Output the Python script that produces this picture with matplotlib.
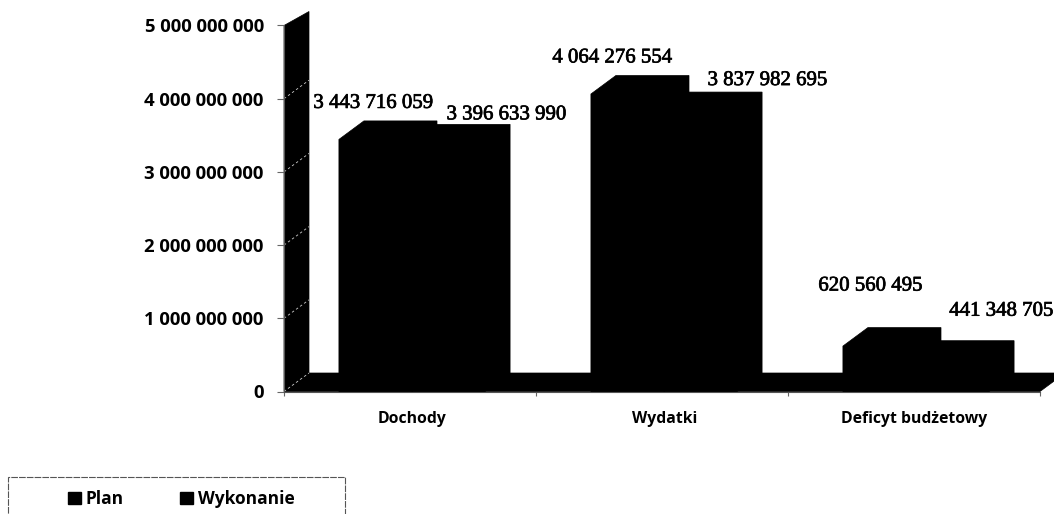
import matplotlib
matplotlib.use('Agg')
import matplotlib.pyplot as plt
import matplotlib.patheffects as pe
from matplotlib.patches import Patch, Polygon, Rectangle

categories = ['Dochody', 'Wydatki', 'Deficyt budżetowy']
plan = [3443716059, 4064276554, 620560495]
wykonanie = [3396633990, 3837982695, 441348705]
y_ticks = [0, 1000000000, 2000000000, 3000000000, 4000000000, 5000000000]
y_tick_labels = ['0', '1 000 000 000', '2 000 000 000', '3 000 000 000', '4 000 000 000', '5 000 000 000']


def fmt(value):
    return f'{value:,}'.replace(',', ' ')


def add_bar(ax, left, width, value):
    # front face, top and side of a 3d bar, all black so they merge
    pts = [(left, 0), (left, value), (left + dx, value + dy),
           (left + width + dx, value + dy), (left + width + dx, dy), (left + width, 0)]
    ax.add_patch(Polygon(pts, closed=True, fc='black', ec='black', lw=0.5, zorder=3, clip_on=False))


W, H = 1054, 514
fig = plt.figure(figsize=(W / 100, H / 100), dpi=100)
ax = fig.add_axes([284 / W, 1 - 391.5 / H, 756 / W, 366 / H])
ax.set_xlim(0, 3)
ax.set_ylim(0, 5000000000)

dx = 25 / 252
dy = 18.5 / 366 * 5000000000
wall_rise = 14 / 366 * 5000000000
bar_w = 0.29
shift = 2 / 252

# back wall and floor
ax.add_patch(Polygon([(0, 0), (0, 5000000000), (dx, 5000000000 + wall_rise), (dx, dy)],
                     closed=True, fc='black', ec='black', lw=0.5, zorder=1, clip_on=False))
ax.add_patch(Polygon([(0, 0), (dx, dy), (3 + dx, dy), (3, 0)],
                     closed=True, fc='black', ec='black', lw=0.5, zorder=1, clip_on=False))

# broken light gridlines on the wall
for t in y_ticks[:-1]:
    ax.plot([0, dx], [t, t + dy], color='#cccccc', lw=0.6, ls=(0, (3, 3)), zorder=2, clip_on=False)

for i in range(3):
    add_bar(ax, i + 0.5 - bar_w + shift, bar_w, plan[i])
    add_bar(ax, i + 0.5 + shift, bar_w, wykonanie[i])

# label offsets in pixels from the front top of the bar
plan_off = [(0, 36), (-13, 36), (-7, 60)]
wyk_off = [(60, 28), (69, 30), (51, 48)]
heavy = [pe.withStroke(linewidth=0.5, foreground='black')]
for i in range(3):
    ax.annotate(fmt(plan[i]), (i + 0.5 - bar_w / 2, plan[i]), xytext=plan_off[i], textcoords='offset pixels',
                ha='center', va='center', family='Liberation Serif', fontsize=15, zorder=5,
                annotation_clip=False, path_effects=heavy)
    ax.annotate(fmt(wykonanie[i]), (i + 0.5 + bar_w / 2, wykonanie[i]), xytext=wyk_off[i],
                textcoords='offset pixels', ha='center', va='center', family='Liberation Serif',
                fontsize=15, zorder=5, annotation_clip=False, path_effects=heavy)

for side in ['top', 'right']:
    ax.spines[side].set_visible(False)
ax.spines['left'].set_color('#555555')
ax.spines['bottom'].set_color('#555555')

ax.set_yticks(y_ticks)
ax.set_yticklabels(y_tick_labels, family='Open Sans', fontweight='bold', fontsize=13.3)
ax.tick_params(axis='y', length=5, color='#666666', pad=9.5)
ax.set_xticks([0, 1, 2, 3])
ax.set_xticklabels([])
ax.tick_params(axis='x', length=3, color='#666666')
ax.set_xticks([0.51, 1.51, 2.5], minor=True)
ax.set_xticklabels(categories, minor=True, family='Open Sans', fontweight='bold', fontsize=11.3)
ax.tick_params(axis='x', which='minor', length=0, pad=14)

# legend box runs off the bottom of the picture
fig.add_artist(Rectangle((8 / W, -0.05), 337 / W, 1 - 477 / H + 0.05, transform=fig.transFigure,
                         fc='none', ec='#555555', lw=0.8, ls=(0, (6, 1))))
handles = [Patch(fc='black', ec='black', label='Plan'), Patch(fc='black', ec='black', label='Wykonanie')]
fig.legend(handles=handles, ncol=2, loc='center left', bbox_to_anchor=(52 / W, 1 - 499 / H), frameon=False,
           prop={'family': 'Open Sans', 'weight': 'bold', 'size': 12.5},
           handlelength=0.75, handleheight=0.75, handletextpad=0.3, columnspacing=3.2)

fig.savefig('out.png', dpi=100)
